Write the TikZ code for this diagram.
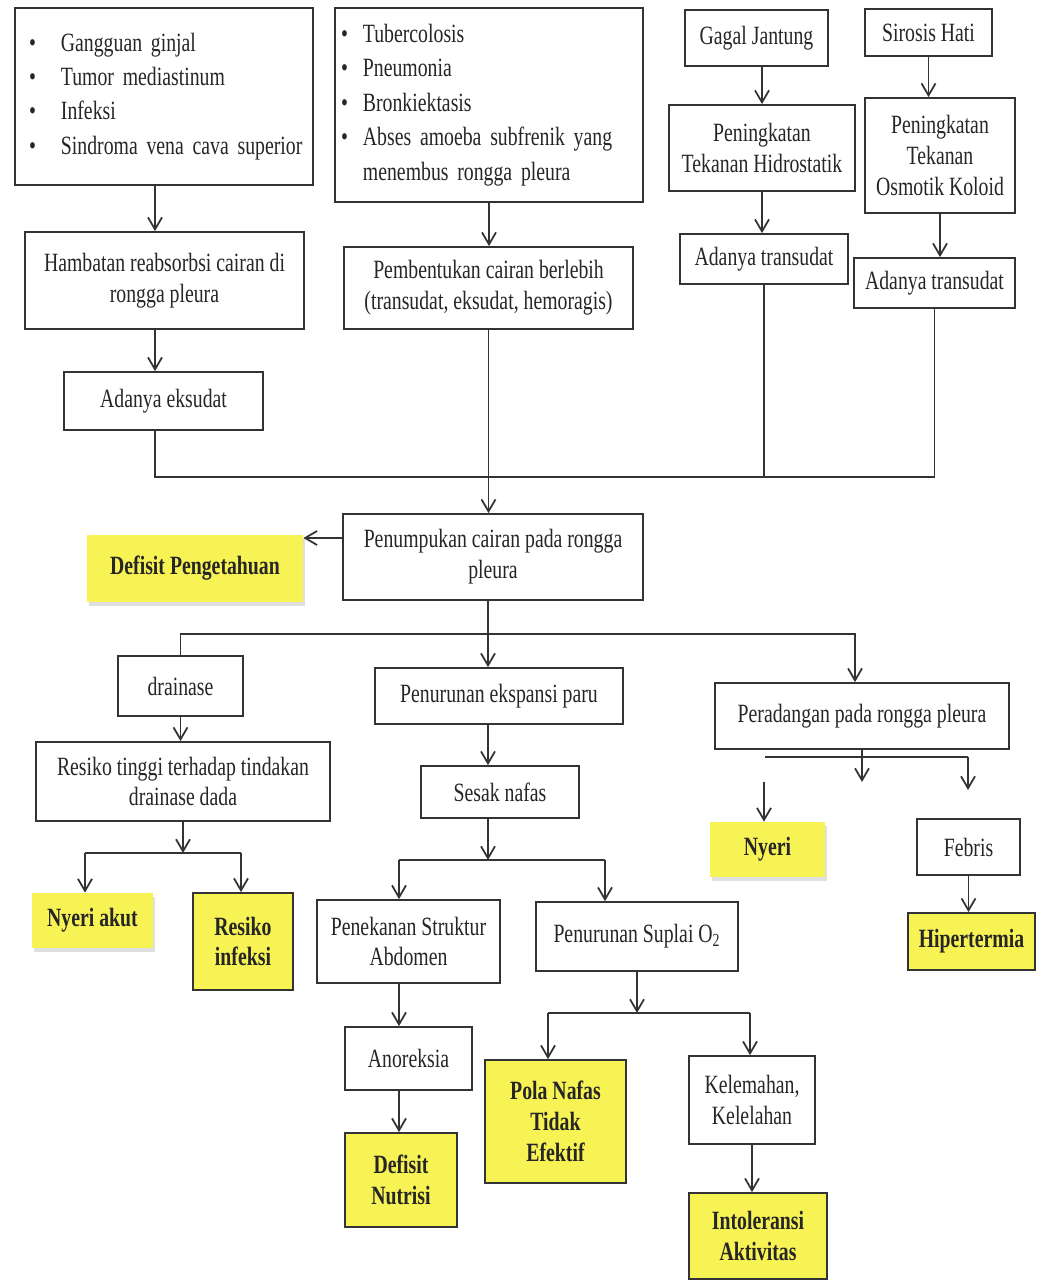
\documentclass[tikz,border=0pt]{standalone}
\usepackage{fontspec}
\setmainfont{Liberation Serif}[FakeStretch=0.75]
\usepackage{tikz}
\usetikzlibrary{arrows.meta,shadows}
\definecolor{dxyellow}{RGB}{248,243,84}

\begin{document}
\begin{tikzpicture}[x=0.02cm,y=-0.02cm,
  every node/.style={font=\fontsize{15pt}{17.6pt}\selectfont,text=black!85},
  sz/.style 2 args={minimum width=#1*0.02cm,minimum height=#2*0.02cm},
  box/.style={draw=black!80,line width=1pt,fill=white,align=center,inner sep=1pt},
  hot/.style={box,fill=dxyellow,font=\fontsize{15pt}{17.6pt}\selectfont\bfseries},
  hotsoft/.style={fill=dxyellow,align=center,inner sep=1pt,font=\fontsize{15pt}{17.6pt}\selectfont\bfseries,
    drop shadow={opacity=0.25,shadow xshift=1pt,shadow yshift=-2pt}},
  wire/.style={draw=black!80,line width=1pt},
  arr/.style={wire,-{Straight Barb[length=2.4mm,width=2.8mm]}}]

\path[use as bounding box,fill=white] (0,0) rectangle (1043,1280);

\coordinate (cL) at (155,0) ;
\coordinate (cM) at (488,0) ;
\coordinate (cR) at (855,0) ;
\coordinate (jA) at (0,477) ;
\coordinate (jB) at (0,634) ;

% causes
\node[box,sz={298}{177},align=left,inner xsep=0.28cm,text width=5.4cm] (gA) at (164,96.5) {%
\begin{tabular}{@{}l@{\hspace{0.5cm}}l@{}}
\textbullet & Gangguan ginjal\\[2pt]
\textbullet & Tumor mediastinum\\[2pt]
\textbullet & Infeksi\\[2pt]
\textbullet & Sindroma vena cava superior
\end{tabular}};
\node[box,sz={308}{194},align=left,inner xsep=0.12cm,text width=5.92cm] (gB) at (489,105) {%
\begin{tabular}{@{}l@{\hspace{0.3cm}}l@{}}
\textbullet & Tubercolosis\\[2pt]
\textbullet & Pneumonia\\[2pt]
\textbullet & Bronkiektasis\\[2pt]
\textbullet & Abses amoeba subfrenik yang\\[2pt]
 & menembus rongga pleura
\end{tabular}};
\node[box,sz={143}{56}] (gagal) at (756.5,38) {Gagal Jantung};
\node[box,sz={127}{47}] (sirosis) at (928.5,32.5) {Sirosis Hati};
\node[box,sz={186}{86}] (hidro) at (762,148) {Peningkatan\\Tekanan Hidrostatik};
\node[box,sz={150}{115}] (koloid) at (940,155.5) {Peningkatan\\Tekanan\\Osmotik Koloid};
\node[box,sz={168}{50}] (trans1) at (764,259) {Adanya transudat};
\node[box,sz={161}{50}] (trans2) at (934.5,283) {Adanya transudat};
\node[box,sz={279}{97}] (hambat) at (164.5,280.5) {Hambatan reabsorbsi cairan di\\rongga pleura};
\node[box,sz={199}{58}] (eksudat) at (163.5,401) {Adanya eksudat};
\node[box,sz={289}{82}] (bentuk) at (488.5,288) {Pembentukan cairan berlebih\\(transudat, eksudat, hemoragis)};

% middle
\node[box,sz={300}{86}] (tumpuk) at (493,557) {Penumpukan cairan pada rongga\\pleura};
\node[hotsoft,sz={216}{67}] (defpeng) at (195,568.5) {Defisit Pengetahuan};
\node[box,sz={125}{60}] (drainase) at (180.5,686) {drainase};
\node[box,sz={294}{79}] (resiko) at (183,781.5) {Resiko tinggi terhadap tindakan\\drainase dada};
\node[box,sz={248}{56}] (ekspansi) at (499,696) {Penurunan ekspansi paru};
\node[box,sz={158}{52}] (sesak) at (500,792) {Sesak nafas};
\node[box,sz={294}{66}] (peradangan) at (862,716) {Peradangan pada rongga pleura};
\node[hotsoft,sz={115}{55}] (nyeri) at (767.5,849.5) {Nyeri};
\node[box,sz={103}{56}] (febris) at (968.5,847) {Febris};
\node[hot,sz={127}{57}] (hiper) at (971.5,941.5) {Hipertermia};
\node[hotsoft,sz={121}{55}] (nyeriakut) at (92.5,920.5) {Nyeri akut};
\node[hot,sz={100}{97}] (resinf) at (243,941.5) {Resiko\\infeksi};

% bottom
\node[box,sz={183}{83}] (tekan) at (408.5,941.5) {Penekanan Struktur\\Abdomen};
\node[box,sz={202}{69}] (suplai) at (637,936.5) {Penurunan Suplai O\textsubscript{2}};
\node[box,sz={127}{63}] (anoreksia) at (408.5,1058.5) {Anoreksia};
\node[hot,sz={112}{94}] (defnut) at (401,1180) {Defisit\\Nutrisi};
\node[hot,sz={141}{123}] (pola) at (555.5,1121.5) {Pola Nafas\\Tidak\\Efektif};
\node[box,sz={126}{88}] (lemah) at (752,1100) {Kelemahan,\\Kelelahan};
\node[hot,sz={138}{86}] (intol) at (758,1236) {Intoleransi\\Aktivitas};

\draw[arr] (gA.south -| cL) -- (hambat.north -| cL) ;
\draw[arr] (hambat.south -| cL) -- (eksudat.north -| cL) ;
\draw[arr] (gB.south) -- (gB.south |- bentuk.north) ;
\draw[arr] (gagal.south -| hidro.north) -- (hidro.north) ;
\draw[arr] (hidro.south) -- (hidro.south |- trans1.north) ;
\draw[arr] (sirosis.south) -- (sirosis.south |- koloid.north) ;
\draw[arr] (koloid.south) -- (koloid.south |- trans2.north) ;

\draw[wire] (eksudat.south -| cL) |- (trans2.south |- jA) -- (trans2.south) ;
\draw[wire] (trans1.south) -- (trans1.south |- jA) ;
\draw[arr] (bentuk.south) -- (bentuk.south |- tumpuk.north) ;

\draw[arr] ([yshift=0.38cm]tumpuk.west) -- ([yshift=0.38cm]tumpuk.west -| defpeng.east) ;
\draw[arr] (tumpuk.south -| cM) -- (ekspansi.north -| cM) ;
\draw[arr] (drainase.north) |- (cR |- jB) -- (cR |- peradangan.north) ;
\draw[arr] (drainase.south) -- (drainase.south |- resiko.north) ;
\draw[arr] (ekspansi.south -| cM) -- (sesak.north -| cM) ;

\coordinate (rL) at (85,853) ;
\coordinate (rR) at (241,853) ;
\draw[arr] (resiko.south) -- (resiko.south |- rL) ;
\draw[wire] (rL) -- (rR) ;
\draw[arr] (rL) -- (rL |- nyeriakut.north) ;
\draw[arr] (rR) -- (rR |- resinf.north) ;

\coordinate (pL) at (765,757) ;
\coordinate (pR) at (968,757) ;
\coordinate (pM) at (862,782) ;
\coordinate (pE) at (968,790) ;
\coordinate (nT) at (764,782) ;
\draw[wire] (pL) -- (pR) ;
\draw[arr] (peradangan.south) -- (pM) ;
\draw[arr] (pR) -- (pE) ;
\draw[arr] (nT) -- (nT |- nyeri.north) ;
\draw[arr] (febris.south) -- (febris.south |- hiper.north) ;

\coordinate (sL) at (399,860) ;
\coordinate (sR) at (605,860) ;
\draw[arr] (sesak.south -| cM) -- (cM |- sL) ;
\draw[wire] (sL) -- (sR) ;
\draw[arr] (sL) -- (sL |- tekan.north) ;
\draw[arr] (sR) -- (sR |- suplai.north) ;
\draw[arr] (tekan.south -| sL) -- (anoreksia.north -| sL) ;
\draw[arr] (anoreksia.south -| sL) -- (defnut.north -| sL) ;

\coordinate (uL) at (548,1013) ;
\coordinate (uR) at (750,1013) ;
\draw[arr] (suplai.south) -- (suplai.south |- uL) ;
\draw[wire] (uL) -- (uR) ;
\draw[arr] (uL) -- (uL |- pola.north) ;
\draw[arr] (uR) -- (uR |- lemah.north) ;
\draw[arr] (lemah.south) -- (lemah.south |- intol.north) ;

\end{tikzpicture}
\end{document}
